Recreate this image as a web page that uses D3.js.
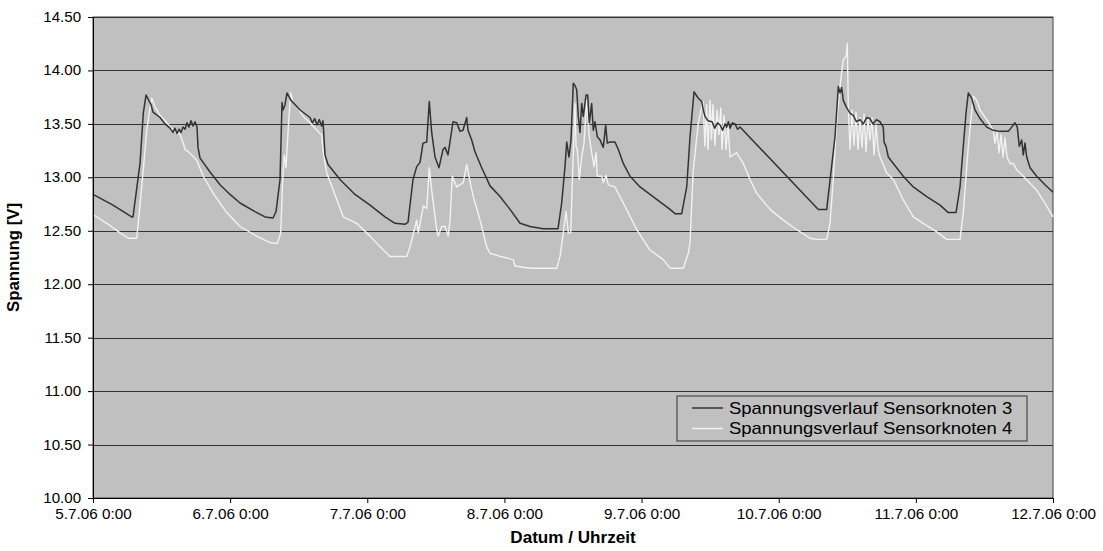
<!DOCTYPE html>
<html>
<head>
<meta charset="utf-8">
<script src="https://cdn.jsdelivr.net/npm/d3@7"></script>
<style>
  html, body { margin: 0; padding: 0; background: #ffffff; }
  svg { display: block; font-family: "Liberation Sans", Arial, sans-serif; }
</style>
</head>
<body>
<svg id="chart" width="1103" height="551"></svg>
<script>
// Hours since 5.7.06 0:00 and voltage [V]
const seriesNames = ["Spannungsverlauf Sensorknoten 3", "Spannungsverlauf Sensorknoten 4"];
const xTickLabels = ["5.7.06 0:00","6.7.06 0:00","7.7.06 0:00","8.7.06 0:00","9.7.06 0:00","10.7.06 0:00","11.7.06 0:00","12.7.06 0:00"];
const yTicks = [10.0,10.5,11.0,11.5,12.0,12.5,13.0,13.5,14.0,14.5];

const knoten3 = [
 [0,12.84],[3.5,12.74],[6.77,12.63],[7.0,12.63],[8.23,13.13],[8.8,13.60],[9.28,13.77],[10.15,13.68],[10.5,13.61],
 [11.73,13.56],[12.6,13.50],[13.48,13.46],[14.0,13.42],[14.35,13.46],[14.7,13.41],[15.05,13.45],[15.4,13.42],[15.75,13.47],
 [16.1,13.45],[16.45,13.51],[16.8,13.47],[17.15,13.53],[17.5,13.48],[17.85,13.52],[18.2,13.47],[18.38,13.28],[18.73,13.18],
 [20.48,13.05],[22.23,12.93],[23.98,12.84],[25.73,12.76],[28.35,12.68],[30.1,12.63],[31.5,12.62],[32.03,12.68],[32.73,12.98],
 [33.08,13.70],[33.25,13.63],[33.6,13.68],[33.95,13.79],[34.65,13.72],[36.23,13.63],[37.98,13.56],[38.4,13.51],[38.8,13.55],
 [39.2,13.49],[39.6,13.54],[40.0,13.48],[40.25,13.53],[40.6,13.21],[41.13,13.12],[43.23,12.98],[45.85,12.84],[48.48,12.74],
 [51.1,12.63],[52.85,12.57],[54.6,12.56],[55.13,12.58],[56.0,12.98],[56.65,13.10],[57.23,13.14],[57.75,13.32],[58.4,13.33],
 [58.85,13.71],[59.27,13.42],[59.85,13.19],[60.55,13.09],[61.25,13.26],[61.6,13.28],[62.13,13.21],[63.0,13.52],[63.65,13.51],
 [64.23,13.43],[64.75,13.44],[65.4,13.56],[65.63,13.44],[66.27,13.35],[66.85,13.24],[68.02,13.09],[69.48,12.92],[71.23,12.82],
 [72.98,12.70],[74.73,12.57],[76.48,12.54],[78.75,12.52],[81.38,12.52],[82.02,12.76],[82.6,13.10],[82.9,13.33],[83.3,13.19],
 [83.65,13.35],[84.05,13.88],[84.35,13.86],[84.65,13.82],[84.93,13.57],[85.23,13.42],[85.52,13.69],[85.8,13.57],[86.28,13.77],
 [86.57,13.77],[86.85,13.51],[87.27,13.69],[87.55,13.44],[87.85,13.52],[88.25,13.38],[88.73,13.35],[89.3,13.28],[89.72,13.49],
 [90.0,13.32],[90.48,13.33],[91.35,13.33],[91.93,13.26],[92.8,13.13],[93.98,13.01],[95.73,12.91],[97.48,12.84],[99.23,12.77],
 [100.98,12.70],[101.85,12.66],[103.02,12.66],[103.9,12.91],[104.48,13.38],[105.18,13.80],[105.93,13.74],[106.52,13.71],
 [106.8,13.63],[107.1,13.57],[107.6,13.53],[108.33,13.52],[108.8,13.46],[109.3,13.51],[109.73,13.49],[110.2,13.44],[110.6,13.50],
 [110.9,13.47],[111.2,13.52],[111.48,13.46],[111.9,13.51],[112.35,13.50],[112.8,13.45],[113.23,13.47],[126.93,12.70],
 [128.4,12.70],[129.85,13.38],[130.43,13.85],[130.73,13.79],[131.02,13.84],[131.3,13.72],[131.9,13.65],[132.48,13.60],
 [133.05,13.58],[133.6,13.52],[134.23,13.54],[134.8,13.50],[135.4,13.56],[135.98,13.55],[136.5,13.50],[137.1,13.54],
 [137.73,13.52],[138.3,13.47],[138.43,13.33],[138.78,13.29],[139.18,13.19],[140.05,13.13],[141.8,13.01],[143.55,12.91],
 [145.9,12.82],[148.23,12.74],[149.68,12.67],[151.03,12.67],[151.73,12.91],[152.3,13.29],[152.78,13.60],[153.18,13.79],
 [153.77,13.74],[154.35,13.63],[155.23,13.55],[156.4,13.47],[157.55,13.44],[158.73,13.43],[160.18,13.43],[160.77,13.47],
 [161.35,13.51],[161.75,13.47],[162.1,13.29],[162.52,13.35],[162.8,13.21],[163.1,13.32],[163.4,13.19],[163.98,13.09],
 [165.15,13.01],[166.6,12.93],[168,12.86]
];

const knoten4 = [
 [0.05,12.65],[2.4,12.57],[4.73,12.48],[6.18,12.43],[7.65,12.43],[8.1,12.67],[8.8,13.07],[9.4,13.44],[9.85,13.60],[10.27,13.74],
 [10.85,13.66],[11.73,13.58],[12.9,13.51],[14.05,13.44],[15.23,13.40],[15.8,13.32],[16.1,13.26],[16.68,13.24],[17.27,13.21],
 [18.15,13.16],[19.3,13.01],[21.05,12.85],[23.4,12.67],[25.73,12.54],[28.65,12.45],[30.98,12.39],[32.25,12.38],[32.85,12.48],
 [33.2,12.98],[33.48,13.21],[33.78,13.09],[34.18,13.47],[34.6,13.79],[35.05,13.69],[35.65,13.66],[36.8,13.57],[37.98,13.51],
 [39.73,13.41],[40.02,13.40],[40.3,13.23],[40.9,13.04],[42.05,12.88],[43.8,12.63],[46.15,12.57],[48.48,12.45],[50.8,12.32],
 [51.98,12.26],[54.9,12.26],[55.48,12.35],[56.65,12.60],[56.93,12.48],[57.8,12.73],[58.4,12.71],[58.85,13.09],[59.27,12.88],
 [60.15,12.51],[60.43,12.45],[61.02,12.54],[61.6,12.54],[62.18,12.45],[62.48,12.60],[62.88,13.01],[63.65,12.91],[64.8,12.95],
 [65.4,13.12],[65.98,12.96],[66.55,12.82],[67.73,12.60],[68.9,12.35],[69.48,12.29],[71.23,12.26],[73.55,12.23],[73.85,12.17],
 [76.48,12.15],[81.15,12.15],[81.73,12.26],[82.3,12.48],[82.78,12.68],[83.18,12.48],[83.6,12.48],[83.95,13.07],[84.35,13.69],
 [84.53,13.29],[84.75,13.26],[85.1,12.98],[85.52,13.19],[85.93,13.32],[86.4,13.72],[86.85,13.38],[87.27,13.23],[87.68,13.10],
 [88.03,13.23],[88.25,13.01],[89.02,13.01],[89.3,12.95],[89.78,13.02],[90.18,12.93],[91.35,12.91],[92.8,12.76],[95.15,12.51],
 [97.48,12.32],[99.8,12.23],[100.98,12.15],[103.3,12.15],[104.18,12.29],[104.48,12.39],[105.05,13.07],[105.93,13.51],
 [106.52,13.66],[106.75,13.71],[107.1,13.29],[107.36,13.68],[107.63,13.26],[107.98,13.72],[108.24,13.35],[108.5,13.68],
 [108.85,13.30],[109.2,13.63],[109.55,13.40],[109.85,13.65],[110.08,13.26],[110.43,13.58],[110.78,13.26],[111.13,13.49],
 [111.48,13.19],[112.63,13.23],[113.8,13.13],[114.98,12.98],[116.15,12.85],[118.48,12.70],[120.8,12.60],[123.15,12.51],
 [125.48,12.43],[126.65,12.42],[128.4,12.42],[128.98,12.57],[129.55,12.98],[130.15,13.54],[130.85,13.91],[131.3,14.10],
 [131.78,14.13],[132.0,14.25],[132.18,13.66],[132.48,13.26],[132.83,13.63],[133.18,13.30],[133.53,13.61],[133.88,13.26],
 [134.23,13.56],[134.58,13.28],[134.93,13.59],[135.28,13.24],[135.63,13.54],[135.98,13.35],[136.33,13.56],[136.68,13.21],
 [137.03,13.49],[137.38,13.26],[137.73,13.19],[138.9,13.04],[140.05,12.98],[141.8,12.79],[143.55,12.63],[145.3,12.57],
 [147.65,12.49],[149.4,12.42],[151.73,12.42],[152.3,12.67],[153.18,13.29],[154.05,13.76],[154.65,13.72],[155.23,13.63],
 [156.4,13.54],[157.55,13.44],[157.85,13.32],[158.2,13.42],[158.55,13.23],[158.9,13.40],[159.25,13.19],[159.6,13.37],
 [159.95,13.19],[160.48,13.13],[161.05,13.13],[161.65,13.07],[162.8,13.01],[165.15,12.88],[166.9,12.73],[168,12.63]
];

const svg = d3.select("#chart");
const margin = {left: 93, right: 50, top: 17, bottom: 53};
const W = 1103, H = 551;
const x = d3.scaleLinear().domain([0, 168]).range([margin.left, W - margin.right]);
const y = d3.scaleLinear().domain([10, 14.5]).range([H - margin.bottom, margin.top]);

// plot background
svg.append("rect")
  .attr("x", x(0)).attr("y", y(14.5))
  .attr("width", x(168) - x(0)).attr("height", y(10) - y(14.5))
  .attr("fill", "#c0c0c0").attr("stroke", "#404040").attr("stroke-width", 1);

// gridlines
svg.append("g").selectAll("line").data(yTicks.filter(v => v > 10))
  .join("line")
  .attr("x1", x(0)).attr("x2", x(168))
  .attr("y1", d => Math.round(y(d)) + 0.5).attr("y2", d => Math.round(y(d)) + 0.5)
  .attr("stroke", "#333333").attr("stroke-width", 1.2);

const line = d3.line().x(d => x(d[0])).y(d => y(d[1]));

svg.append("path").datum(knoten4)
  .attr("d", line).attr("fill", "none").attr("stroke", "#f2f2f2").attr("stroke-width", 1.4)
  .attr("stroke-linejoin", "round");
svg.append("path").datum(knoten3)
  .attr("d", line).attr("fill", "none").attr("stroke", "#333333").attr("stroke-width", 1.5)
  .attr("stroke-linejoin", "round");

// axes
const yAxis = d3.axisLeft(y).tickValues(yTicks).tickFormat(d3.format(".2f")).tickSize(5).tickSizeOuter(0);
const gy = svg.append("g").attr("transform", `translate(${x(0)},0)`).call(yAxis);
gy.select(".domain").attr("stroke", "#000");
gy.selectAll(".tick line").attr("stroke", "#000");
gy.selectAll("text").attr("font-size", 14).attr("fill", "#000")
  .attr("font-family", "Liberation Sans, Arial, sans-serif")
  .attr("x", -11).attr("transform", "scale(1.08,1)");

const xAxis = d3.axisBottom(x).tickValues(d3.range(0, 169, 24))
  .tickFormat((d, i) => xTickLabels[i]).tickSize(5).tickSizeOuter(0);
const gx = svg.append("g").attr("transform", `translate(0,${y(10)})`).call(xAxis);
gx.select(".domain").attr("stroke", "#000");
gx.selectAll(".tick line").attr("stroke", "#000");
gx.selectAll("text").attr("font-size", 14).attr("fill", "#000")
  .attr("font-family", "Liberation Sans, Arial, sans-serif").attr("dy", "0.95em")
  .attr("transform", "scale(1.09,1)");

// axis titles
svg.append("text")
  .attr("transform", `translate(19,${(y(10) + y(14.5)) / 2}) rotate(-90) scale(1.05,1)`)
  .attr("text-anchor", "middle").attr("font-weight", "bold").attr("font-size", 16)
  .text("Spannung [V]");
svg.append("text")
  .attr("transform", `translate(${(x(0) + x(168)) / 2},543) scale(1.07,1)`)
  .attr("text-anchor", "middle").attr("font-weight", "bold").attr("font-size", 16)
  .text("Datum / Uhrzeit");

// legend
const lg = svg.append("g").attr("transform", "translate(677,396)");
lg.append("rect").attr("x", 0).attr("y", 0).attr("width", 350).attr("height", 45)
  .attr("fill", "#c0c0c0").attr("stroke", "#333333").attr("stroke-width", 1);
const colors = ["#333333", "#f2f2f2"];
seriesNames.forEach((n, i) => {
  const cy = 12 + i * 20.5;
  lg.append("line").attr("x1", 15).attr("x2", 46).attr("y1", cy).attr("y2", cy)
    .attr("stroke", colors[i]).attr("stroke-width", 1.5);
  lg.append("text").attr("transform", `translate(52,${cy}) scale(1.155,1)`).attr("dy", "0.35em")
    .attr("font-size", 16).attr("fill", "#000").text(n);
});
</script>
</body>
</html>
